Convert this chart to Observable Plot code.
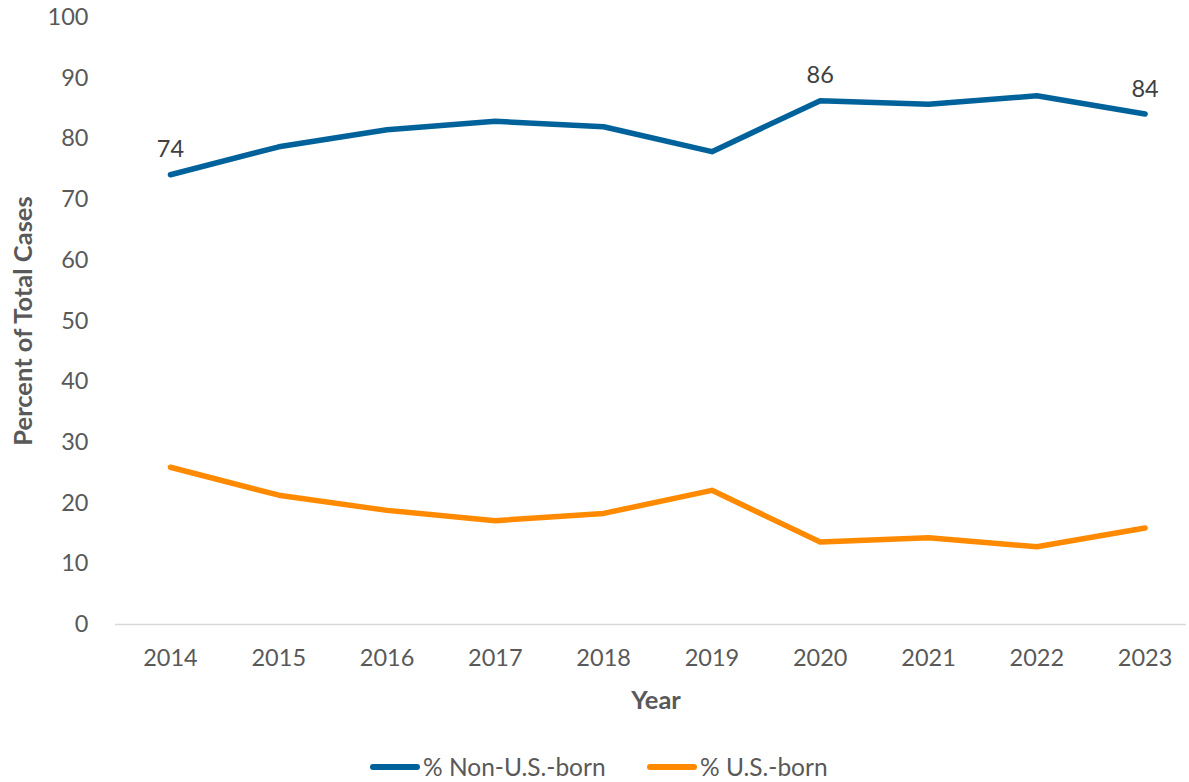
<!DOCTYPE html>
<html>
<head>
<meta charset="utf-8">
<script src="https://cdn.jsdelivr.net/npm/d3@7"></script>
<script src="https://cdn.jsdelivr.net/npm/@observablehq/plot@0.6"></script>
<style>
  html, body { margin: 0; padding: 0; background: #fff; }
  body { width: 1189px; height: 782px; overflow: hidden; font-family: Lato, "Open Sans", sans-serif; color: #595959; position: relative; }
  #chart svg { display: block; }
  #legend { position: absolute; top: 753px; left: 0; width: 1189px; height: 28px; font-size: 24.5px; line-height: 28px; color: #595959; }
  .item { position: absolute; top: 0; height: 28px; display: flex; align-items: center; white-space: nowrap; }
  .sw { display: inline-block; width: 50px; height: 6px; border-radius: 3px; margin-right: 3px; }
</style>
</head>
<body>
<div id="chart"></div>
<div id="legend"></div>
<script>
const years = [2014, 2015, 2016, 2017, 2018, 2019, 2020, 2021, 2022, 2023];
const nonUSBorn = [74.1, 78.7, 81.5, 82.9, 82.0, 77.9, 86.3, 85.7, 87.1, 84.1];
const usBorn = [25.9, 21.3, 18.8, 17.1, 18.3, 22.1, 13.6, 14.3, 12.8, 15.9];
const seriesNames = ["% Non-U.S.-born", "% U.S.-born"];
const seriesColors = ["#00629B", "#FF8A00"];
const labeledYears = [2014, 2020, 2023];
const yTicks = [0, 10, 20, 30, 40, 50, 60, 70, 80, 90, 100];
const xTitle = "Year";
const yTitle = "Percent of Total Cases";

const rows = [];
years.forEach((yr, i) => {
  rows.push({year: yr, value: nonUSBorn[i], series: seriesNames[0]});
  rows.push({year: yr, value: usBorn[i], series: seriesNames[1]});
});
const labels = rows.filter(d => d.series === seriesNames[0] && labeledYears.includes(d.year));

const chart = Plot.plot({
  width: 1189,
  height: 740,
  marginLeft: 100,
  marginRight: 0,
  marginTop: 17,
  marginBottom: 116,
  style: {fontFamily: "Lato, 'Open Sans', sans-serif", fontSize: "23.5px", color: "#595959", background: "#fff"},
  x: {type: "linear", domain: [2013.354, 2023.41]},
  y: {domain: [0, 100]},
  color: {domain: seriesNames, range: seriesColors},
  marks: [
    Plot.ruleY([0], {stroke: "#D9D9D9", strokeWidth: 1.5, insetLeft: 15, insetRight: 3}),
    Plot.axisY({ticks: yTicks, tickSize: 0, tickPadding: 12, fontSize: 23.5, label: null}),
    Plot.axisX({ticks: years, tickFormat: d => String(d), tickSize: 0, tickPadding: 25, fontSize: 23.5, label: null}),
    Plot.text([yTitle], {frameAnchor: "left", rotate: -90, dx: -77, textAnchor: "middle", lineAnchor: "middle",
      fontSize: 25.5, fontWeight: "bold", fill: "#595959"}),
    Plot.text([xTitle], {frameAnchor: "bottom", dx: 11, dy: 76, textAnchor: "middle", lineAnchor: "middle",
      fontSize: 25.5, fontWeight: "bold", fill: "#595959"}),
    Plot.lineY(rows, {x: "year", y: "value", z: "series", stroke: "series", strokeWidth: 5.5,
      strokeLinecap: "round", strokeLinejoin: "round"}),
    Plot.text(labels, {x: "year", y: "value", text: d => String(Math.round(d.value)), dy: -25,
      fontSize: 23.5, fill: "#404040"})
  ]
});
document.getElementById("chart").appendChild(chart);

const legend = document.getElementById("legend");
const lefts = [370, 647];
seriesNames.forEach((name, i) => {
  const item = document.createElement("div");
  item.className = "item";
  item.style.left = lefts[i] + "px";
  const sw = document.createElement("span");
  sw.className = "sw";
  sw.style.background = seriesColors[i];
  const t = document.createElement("span");
  t.textContent = name;
  item.appendChild(sw);
  item.appendChild(t);
  legend.appendChild(item);
});
</script>
</body>
</html>
